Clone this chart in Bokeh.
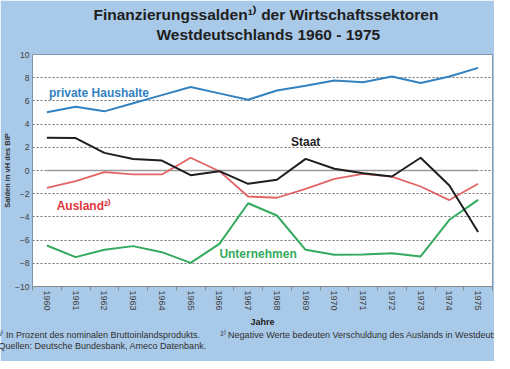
from bokeh.plotting import figure
from bokeh.models import Range1d, FixedTicker, Label, Title
from bokeh.embed import file_html
from bokeh.resources import INLINE

years = list(range(1960, 1976))
haushalte = [5.03, 5.5, 5.1, 5.8, 6.5, 7.2, 6.65, 6.1, 6.9, 7.3, 7.75, 7.6, 8.1, 7.55, 8.1, 8.85]
staat = [2.82, 2.8, 1.52, 1.0, 0.86, -0.4, -0.06, -1.15, -0.8, 1.0, 0.15, -0.23, -0.52, 1.1, -1.3, -5.3]
ausland = [-1.5, -0.92, -0.14, -0.34, -0.34, 1.1, -0.06, -2.24, -2.35, -1.58, -0.72, -0.29, -0.52, -1.38, -2.55, -1.15]
unternehmen = [-6.47, -7.47, -6.84, -6.52, -7.04, -7.96, -6.32, -2.82, -3.88, -6.84, -7.27, -7.24, -7.13, -7.41, -4.25, -2.53]
zero_line = [0] * len(years)
y_ticks = list(range(-10, 11, 2))

title_1 = "Finanzierungssalden\u00b9\u207e der Wirtschaftssektoren"
title_2 = "Westdeutschlands 1960 - 1975"
y_title = "Salden in vH des BIP"
x_title = "Jahre"
foot_1 = ("\u00b9\u207e In Prozent des nominalen Bruttoinlandsprodukts.\u2003\u2003 "
          "\u00b2\u207e Negative Werte bedeuten Verschuldung  des Auslands in Westdeutschland.")
foot_2 = "Quellen: Deutsche Bundesbank, Ameco Datenbank."

BG = "#A9C9E9"
FONT = "Liberation Sans"
C_BLUE = "#3382C0"
C_BLACK = "#1E1E1E"
C_RED = "#E26464"
C_RED_T = "#E0353D"
C_GREEN = "#33AA5E"

p = figure(width=494, height=361, x_range=Range1d(1959.5, 1975.5), y_range=Range1d(-10, 10),
           output_backend="svg", toolbar_location=None,
           min_border_left=10, min_border_right=2, min_border_top=54, min_border_bottom=75,
           background_fill_color="white", border_fill_color=BG)
p.outline_line_color = "#8096AC"
p.outline_line_width = 1

# titles: p.title is the outer (first) line, the added Title sits next to the frame
p.title.text = title_1
p.title.align = "left"
p.title.offset = 61
p.title.vertical_align = "bottom"
p.title.standoff = -12
p.title.text_font = FONT
p.title.text_font_size = "15.5px"
p.title.text_font_style = "bold"
p.title.text_color = "#202020"
p.add_layout(Title(text=title_2, align="left", offset=124, vertical_align="top", standoff=19,
                   text_font=FONT, text_font_size="15.5px", text_font_style="bold",
                   text_color="#202020"), "above")

# axes
p.xaxis.ticker = FixedTicker(ticks=years, minor_ticks=[y - 0.5 for y in years] + [1975.5])
p.xaxis.major_tick_out = 0
p.xaxis.major_tick_in = 0
p.xaxis.minor_tick_out = 4
p.xaxis.minor_tick_in = 0
p.xaxis.minor_tick_line_color = "#8a8a8a"
p.xaxis.axis_line_color = "#8a8a8a"
p.xaxis.major_label_orientation = "vertical"
p.xaxis.major_label_text_font = FONT
p.xaxis.major_label_text_font_size = "9px"
p.xaxis.major_label_text_color = "#404040"
p.xaxis.major_label_standoff = 0
p.xaxis.axis_label = x_title
p.xaxis.axis_label_text_font = FONT
p.xaxis.axis_label_text_font_size = "9px"
p.xaxis.axis_label_text_font_style = "bold"
p.xaxis.axis_label_text_color = "#202020"
p.xaxis.axis_label_standoff = 3

p.yaxis.ticker = FixedTicker(ticks=y_ticks)
p.yaxis.major_tick_out = 0
p.yaxis.major_tick_in = 0
p.yaxis.minor_tick_out = 0
p.yaxis.minor_tick_in = 0
p.yaxis.axis_line_color = None
p.yaxis.major_label_text_font = FONT
p.yaxis.major_label_text_font_size = "8.5px"
p.yaxis.major_label_text_color = "#404040"
p.yaxis.major_label_standoff = 3
p.yaxis.axis_label = y_title
p.yaxis.axis_label_text_font = FONT
p.yaxis.axis_label_text_font_size = "7.5px"
p.yaxis.axis_label_text_font_style = "bold"
p.yaxis.axis_label_text_color = "#303030"
p.yaxis.axis_label_standoff = 0

p.xgrid.visible = False
p.ygrid.ticker = FixedTicker(ticks=y_ticks)
p.ygrid.grid_line_color = "#6E6E6E"
p.ygrid.grid_line_dash = "2 2"
p.ygrid.grid_line_width = 1

# footnotes (two lines, one title block below the axis)
p.add_layout(Title(text=foot_1 + "\n" + foot_2, align="left", offset=-34, standoff=-4,
                   text_font=FONT, text_font_size="9px", text_line_height=1.16,
                   text_font_style="normal", text_color="#303030"), "below")

# series
p.line(years, zero_line, line_color="#9A9A9A", line_width=1.5)
p.line(years, ausland, line_color=C_RED, line_width=1.8)
p.line(years, unternehmen, line_color=C_GREEN, line_width=2)
p.line(years, haushalte, line_color=C_BLUE, line_width=2)
p.line(years, staat, line_color=C_BLACK, line_width=2)


def lab(text, x, y, color):
    p.add_layout(Label(text=text, x=x, y=y, text_font=FONT, text_font_size="12px",
                       text_color=color, text_font_style="bold",
                       text_align="left", text_baseline="middle"))


lab("private Haushalte", 1960.07, 6.7, C_BLUE)
lab("Staat", 1968.49, 2.5, C_BLACK)
lab("Ausland\u00b2\u207e", 1960.34, -3.1, C_RED_T)
lab("Unternehmen", 1966.0, -7.2, C_GREEN)

open("out.html", "w").write(file_html(p, INLINE))
